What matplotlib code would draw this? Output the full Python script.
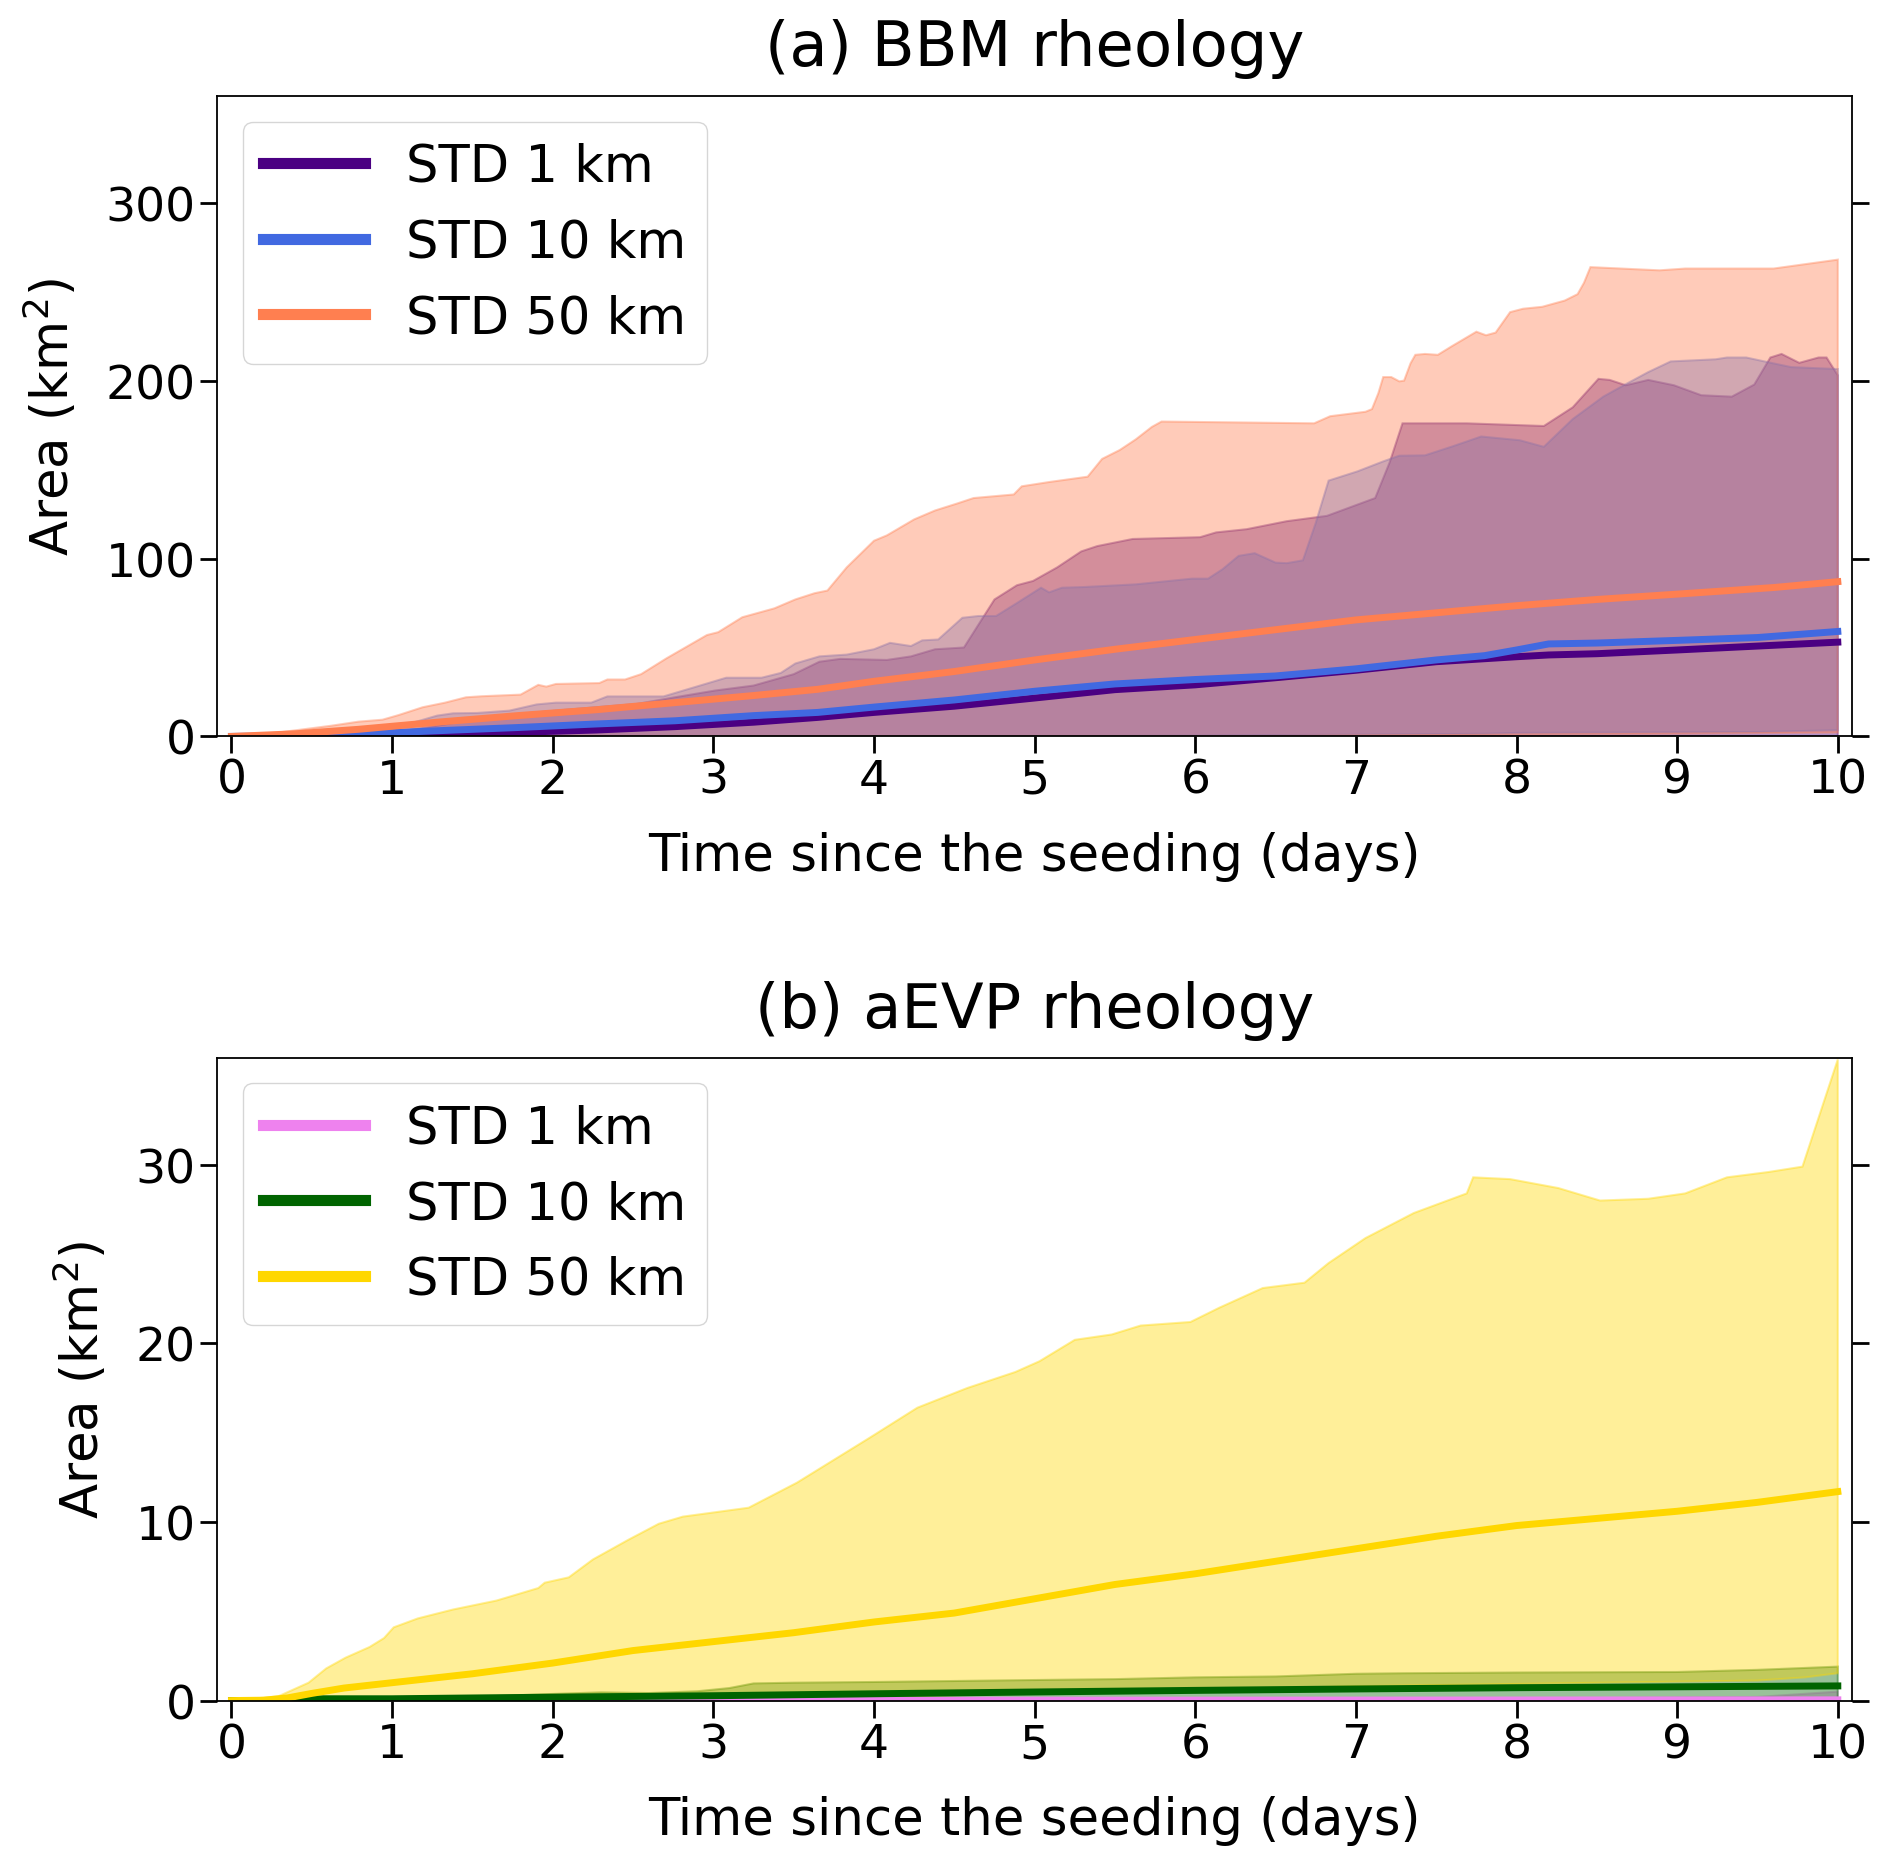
import numpy as np
import matplotlib
matplotlib.use("Agg")
import matplotlib.pyplot as plt

# ---- (a) BBM rheology : (day, area km2) points ----
bbm_1km_mean = [(0, 0), (0.5, 0), (1.0, 0.3), (1.28, 0.8), (1.78, 2.3), (2.27, 3.6), (2.76, 5.5),
                (3.25, 8), (3.65, 10.7), (4.0, 13.5), (4.5, 17), (5.0, 21.6), (5.5, 26.3), (6.0, 29),
                (6.5, 33), (7.0, 37.2), (7.5, 42), (8.0, 44.8), (8.2, 45.8), (8.5, 46.5), (9.0, 48.6),
                (9.5, 50.8), (10.0, 53)]
bbm_10km_mean = [(0, 0), (0.5, 0.5), (0.79, 1.3), (1.28, 3.2), (1.78, 5), (2.27, 7), (2.76, 8.8),
                 (3.25, 11.7), (3.65, 13.5), (4.0, 16.5), (4.5, 20.5), (5.0, 25.4), (5.5, 29.5),
                 (6.0, 32), (6.5, 34), (7.0, 38), (7.5, 43), (7.8, 45.4), (8.0, 48.6), (8.2, 52),
                 (8.5, 52.5), (9.0, 54), (9.5, 55.6), (10.0, 59)]
bbm_50km_mean = [(0, 0), (0.4, 1.5), (0.79, 4), (1.28, 8), (1.78, 11.7), (2.27, 15), (2.76, 19),
                 (3.25, 23), (3.65, 26.5), (4.0, 31), (4.5, 36.5), (5.0, 43), (5.5, 49), (6.0, 54.5),
                 (6.5, 60), (7.0, 65.5), (7.5, 69.5), (8.0, 73.5), (8.5, 77), (9.0, 80), (9.6, 83.7),
                 (10.0, 87)]

bbm_1km_upper = [(0, 0), (0.5, 0), (0.94, 1), (1.28, 6), (1.53, 9.8), (1.78, 12.6), (2.02, 14.5),
                 (2.27, 16.4), (2.52, 18.2), (2.76, 22), (3.01, 25.8), (3.25, 28.6), (3.5, 35),
                 (3.66, 42), (3.79, 43.6), (4.08, 43), (4.23, 45), (4.38, 49), (4.56, 50), (4.75, 77),
                 (4.89, 85), (4.99, 87.4), (5.14, 95), (5.29, 104), (5.39, 107), (5.61, 111),
                 (6.03, 112), (6.13, 114.7), (6.32, 116.5), (6.57, 121), (6.82, 124), (6.91, 127),
                 (7.12, 134), (7.21, 154), (7.29, 176), (7.69, 176), (8.17, 174.5), (8.35, 185),
                 (8.51, 201), (8.58, 200.4), (8.68, 197.4), (8.82, 200.4), (8.98, 197.4),
                 (9.15, 191.8), (9.34, 191), (9.48, 197.8), (9.58, 213), (9.65, 215), (9.76, 210),
                 (9.88, 213), (9.93, 213), (10.0, 203)]
bbm_10km_upper = [(0, 0), (0.6, 0), (0.79, 1), (0.94, 5.6), (1.04, 6), (1.14, 8), (1.28, 11.7),
                  (1.38, 13), (1.53, 13.2), (1.73, 14.5), (1.90, 18), (2.02, 19), (2.24, 19),
                  (2.34, 22.5), (2.69, 22.5), (2.88, 27.6), (3.08, 33), (3.30, 33), (3.42, 35.7),
                  (3.51, 41), (3.66, 45), (3.83, 46), (4.0, 49), (4.1, 52.6), (4.23, 50.8),
                  (4.30, 54), (4.40, 54.5), (4.55, 66.7), (4.65, 67.7), (4.76, 67.7), (4.89, 75),
                  (5.04, 83.6), (5.09, 81), (5.17, 83.6), (5.31, 84), (5.63, 85.5), (5.98, 88.7),
                  (6.08, 88.7), (6.17, 94), (6.27, 101.5), (6.37, 103), (6.50, 97.7), (6.57, 97.4),
                  (6.67, 99), (6.75, 120), (6.83, 143.8), (7.01, 149), (7.17, 154.6), (7.27, 157.8),
                  (7.43, 158), (7.60, 163), (7.78, 168.6), (8.02, 166.5), (8.17, 162.8),
                  (8.35, 178.4), (8.54, 191), (8.68, 198), (8.82, 204.8), (8.96, 210.8),
                  (9.24, 212), (9.31, 213), (9.43, 213), (9.60, 209.7), (9.71, 207.6), (10.0, 206.5)]
bbm_50km_upper = [(0, 0), (0.3, 2.3), (0.62, 6), (0.79, 8.3), (0.94, 9.4), (1.04, 12), (1.19, 16.4),
                  (1.33, 19), (1.46, 22), (1.56, 22.6), (1.80, 23.5), (1.91, 29), (1.96, 28),
                  (2.02, 29.5), (2.29, 30), (2.34, 32), (2.45, 32), (2.55, 35), (2.71, 44), (2.96, 57),
                  (3.03, 58.6), (3.18, 67), (3.38, 72), (3.51, 77), (3.63, 80.5), (3.71, 82),
                  (3.83, 95), (4.0, 110), (4.08, 113), (4.25, 122), (4.38, 127), (4.52, 131),
                  (4.62, 134), (4.87, 136), (4.92, 140.6), (5.09, 143), (5.33, 146), (5.42, 156),
                  (5.53, 161), (5.63, 167), (5.73, 174), (5.79, 177), (6.74, 176), (6.84, 180),
                  (7.06, 182.5), (7.10, 184), (7.14, 193), (7.17, 202), (7.22, 202), (7.27, 199.6),
                  (7.30, 200), (7.34, 209.7), (7.37, 214.5), (7.43, 215), (7.51, 214.5),
                  (7.60, 219.5), (7.75, 227.5), (7.81, 225.5), (7.87, 227), (7.96, 238.5),
                  (8.04, 240.4), (8.16, 241.5), (8.30, 245), (8.38, 248.6), (8.42, 255),
                  (8.46, 263.8), (8.89, 262), (9.05, 263), (9.60, 263), (10.0, 268)]

bbm_1km_lower = [(0, 0), (10.0, 0.3)]
bbm_10km_lower = [(0, 0), (5.0, 0), (6.0, 0.5), (7.0, 1), (7.8, 1.5), (8.0, 2), (9.0, 2.3),
                  (9.5, 2.5), (10.0, 3.5)]
bbm_50km_lower = [(0, 0), (6.0, 0), (7.0, 0.5), (8.0, 1), (9.0, 1.5), (10.0, 2.2)]

# ---- (b) aEVP rheology ----
aevp_1km_mean = [(0, 0), (5.0, 0.02), (10.0, 0.04)]
aevp_1km_upper = [(0, 0), (5.0, 0.02), (8.0, 0.1), (9.5, 0.2), (10.0, 0.5)]
aevp_1km_lower = [(0, 0), (10.0, 0)]

aevp_10km_mean = [(0, 0), (0.3, 0), (0.5, 0.1), (1.0, 0.1), (2.0, 0.19), (3.0, 0.27), (4.0, 0.38),
                  (5.0, 0.48), (6.0, 0.57), (7.0, 0.65), (8.0, 0.72), (9.0, 0.77), (10.0, 0.82)]
aevp_10km_upper = [(0, 0), (0.5, 0.1), (1.0, 0.1), (1.5, 0.2), (2.0, 0.37), (2.3, 0.46),
                   (2.6, 0.42), (2.9, 0.52), (3.1, 0.7), (3.25, 0.96), (3.5, 1.0), (4.0, 1.04),
                   (5.0, 1.15), (5.5, 1.2), (6.0, 1.3), (6.5, 1.35), (7.0, 1.5), (7.3, 1.53),
                   (8.0, 1.57), (9.0, 1.6), (9.5, 1.72), (10.0, 1.9)]
aevp_10km_lower = [(0, 0), (10.0, 0.05)]

aevp_50km_mean = [(0, 0), (0.2, 0.02), (0.35, 0.15), (0.5, 0.4), (0.7, 0.7), (1.0, 1.0),
                  (1.5, 1.5), (2.0, 2.1), (2.5, 2.8), (3.0, 3.3), (3.5, 3.8), (4.0, 4.4),
                  (4.5, 4.9), (5.0, 5.7), (5.5, 6.5), (6.0, 7.1), (6.5, 7.8), (7.0, 8.5),
                  (7.5, 9.2), (8.0, 9.8), (8.5, 10.2), (9.0, 10.6), (9.5, 11.1), (10.0, 11.7)]
aevp_50km_upper = [(0, 0), (0.29, 0.23), (0.48, 1.0), (0.59, 1.8), (0.71, 2.4), (0.86, 3.0),
                   (0.95, 3.5), (1.01, 4.1), (1.16, 4.6), (1.38, 5.1), (1.65, 5.6), (1.91, 6.3),
                   (1.95, 6.6), (2.10, 6.9), (2.25, 7.9), (2.47, 9.0), (2.66, 9.9), (2.81, 10.3),
                   (3.22, 10.8), (3.52, 12.2), (3.97, 14.7), (4.27, 16.4), (4.58, 17.5),
                   (4.88, 18.4), (5.03, 19.0), (5.25, 20.2), (5.48, 20.5), (5.66, 21.0),
                   (5.97, 21.2), (6.15, 22.0), (6.42, 23.1), (6.68, 23.4), (6.83, 24.5),
                   (7.06, 25.9), (7.36, 27.3), (7.69, 28.4), (7.73, 29.3), (7.96, 29.2),
                   (8.26, 28.7), (8.52, 28.0), (8.82, 28.1), (9.05, 28.4), (9.31, 29.3),
                   (9.57, 29.6), (9.78, 29.9), (10.0, 35.9)]
aevp_50km_lower = [(0, 0), (3.0, 0), (4.0, 0.2), (5.0, 0.4), (6.0, 0.6), (7.0, 0.8), (8.0, 0.93),
                   (9.0, 1.06), (9.5, 1.12), (9.8, 1.3), (10.0, 1.53)]

labels = ["STD 1 km", "STD 10 km", "STD 50 km"]
bbm_colors = ["indigo", "royalblue", "coral"]
aevp_colors = ["violet", "darkgreen", "gold"]

panels = [
    ("(a) BBM rheology", bbm_colors, [0, 100, 200, 300], 360,
     [bbm_1km_mean, bbm_10km_mean, bbm_50km_mean],
     [bbm_1km_upper, bbm_10km_upper, bbm_50km_upper],
     [bbm_1km_lower, bbm_10km_lower, bbm_50km_lower]),
    ("(b) aEVP rheology", aevp_colors, [0, 10, 20, 30], 36,
     [aevp_1km_mean, aevp_10km_mean, aevp_50km_mean],
     [aevp_1km_upper, aevp_10km_upper, aevp_50km_upper],
     [aevp_1km_lower, aevp_10km_lower, aevp_50km_lower]),
]

fig = plt.figure(figsize=(18.92, 18.58), dpi=100)
ax_top = fig.add_axes([0.1147, 0.6031, 0.8643, 0.3447])
ax_bot = fig.add_axes([0.1147, 0.0842, 0.8643, 0.3460])

for ax, (title, colors, yticks, ytop, means, uppers, lowers) in zip([ax_top, ax_bot], panels):
    # envelopes first, then the mean curves on top
    for up, lo, c in zip(uppers, lowers, colors):
        up = np.array(up)
        lo = np.array(lo)
        xs = np.concatenate([up[:, 0], lo[::-1, 0]])
        ys = np.concatenate([up[:, 1], lo[::-1, 1]])
        ax.fill(xs, ys, color=c, alpha=0.4, lw=1.5)
    for m, c, lab in zip(means, colors, labels):
        m = np.array(m)
        ax.plot(m[:, 0], m[:, 1], color=c, lw=5, label=lab)

    ax.set_xlim(-0.09, 10.09)
    ax.set_ylim(0, ytop)
    ax.set_xticks(range(0, 11))
    ax.set_yticks(yticks)
    ax.tick_params(axis="both", labelsize=34, length=12, width=2, direction="out")
    ax.tick_params(axis="y", right=True)
    for sp in ax.spines.values():
        sp.set_linewidth(1.3)
    ax.set_xlabel("Time since the seeding (days)", fontsize=37, labelpad=20)
    ax.set_ylabel("Area (km$^2$)", fontsize=37, labelpad=18)
    ax.set_title(title, fontsize=45, pad=22)
    leg = ax.legend(loc="upper left", fontsize=36.8, handlelength=2.0)
    for line in leg.get_lines():
        line.set_linewidth(8)

fig.savefig("out.png", dpi=100)
